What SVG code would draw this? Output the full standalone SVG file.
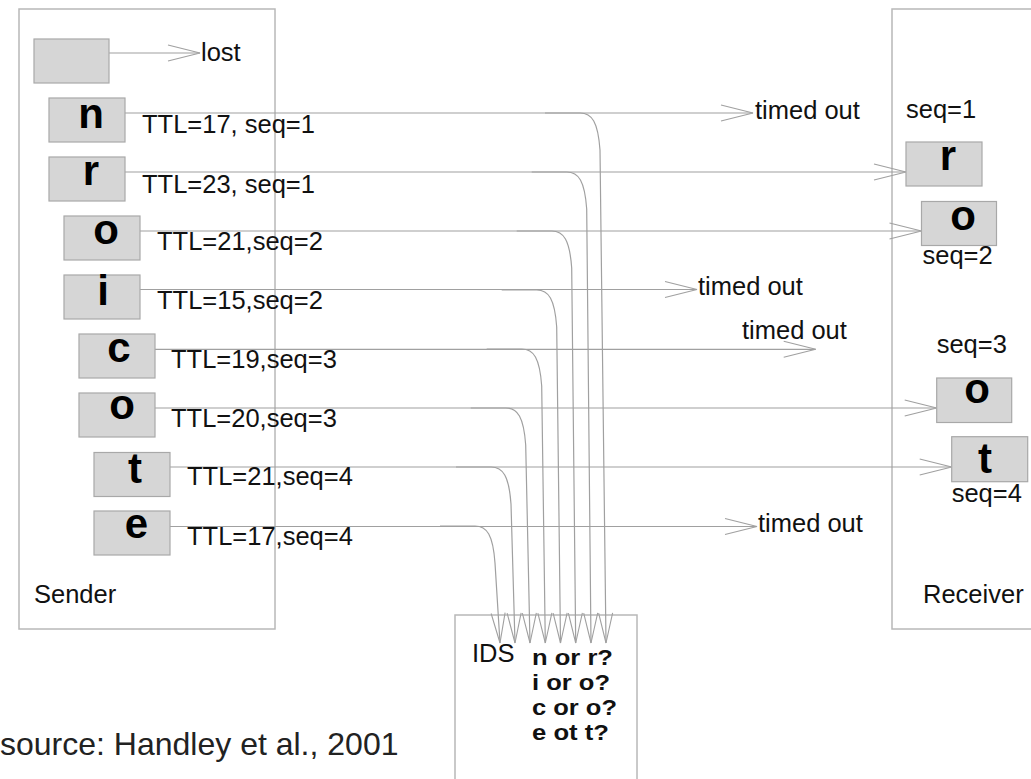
<svg xmlns="http://www.w3.org/2000/svg" width="1031" height="779" viewBox="0 0 1031 779">
<style>
  .cont{fill:#fff;stroke:#b8b8b8;stroke-width:1.5}
  .pkt{fill:#d6d6d6;stroke:#a8a8a8;stroke-width:1.2}
  .let{font-family:"Liberation Sans",Arial,sans-serif;font-weight:bold;font-size:42px;fill:#000;text-anchor:middle}
  .lbl{font-family:"Liberation Sans",Arial,sans-serif;font-size:25.5px;fill:#111}
  .bl{font-family:"Liberation Sans",Arial,sans-serif;font-size:21.5px;font-weight:bold;fill:#111}
  .ln{fill:none;stroke:#a0a0a0;stroke-width:1.2}
</style>
<defs>
  <marker id="ah" markerUnits="userSpaceOnUse" markerWidth="40" markerHeight="20" viewBox="-34 -10 36 20" refX="0" refY="0" orient="auto">
    <path d="M-32,-8 L0,0 L-32,8" fill="none" stroke="#a0a0a0" stroke-width="1.1"/>
  </marker>
  <marker id="ahv" markerUnits="userSpaceOnUse" markerWidth="40" markerHeight="20" viewBox="-34 -10 36 20" refX="0" refY="0" orient="auto">
    <path d="M-30,-7 L0,0 L-30,7" fill="none" stroke="#a0a0a0" stroke-width="1.1"/>
  </marker>
</defs>
<rect width="1031" height="779" fill="#fff"/>

<g id="sender">
  <rect class="cont" x="19" y="9" width="256" height="620"/>
  <text class="lbl" x="34" y="603">Sender</text>
</g>
<g id="receiver">
  <rect class="cont" x="892" y="9" width="160" height="620"/>
  <text class="lbl" x="923" y="603">Receiver</text>
</g>
<g id="ids">
  <rect class="cont" x="455" y="615" width="182" height="200"/>
  <text class="lbl" x="472" y="662">IDS</text>
  <text class="bl" x="532" y="665" textLength="81" lengthAdjust="spacingAndGlyphs">n or r?</text>
  <text class="bl" x="532" y="690" textLength="78" lengthAdjust="spacingAndGlyphs">i or o?</text>
  <text class="bl" x="532" y="715" textLength="85" lengthAdjust="spacingAndGlyphs">c or o?</text>
  <text class="bl" x="532" y="740" textLength="77" lengthAdjust="spacingAndGlyphs">e ot t?</text>
</g>

<g id="connectors">
  <path class="ln" d="M109,53 H200" marker-end="url(#ah)"/>
  <path class="ln" d="M125,113 H753" marker-end="url(#ah)"/>
  <path class="ln" d="M125,172 H906" marker-end="url(#ah)"/>
  <path class="ln" d="M140,231 H921.5" marker-end="url(#ah)"/>
  <path class="ln" d="M140,289.5 H697" marker-end="url(#ah)"/>
  <path class="ln" d="M155,349.3 H815.7" marker-end="url(#ah)"/>
  <path class="ln" d="M155,408 H936.7" marker-end="url(#ah)"/>
  <path class="ln" d="M170,467 H951.7" marker-end="url(#ah)"/>
  <path class="ln" d="M170,526.5 H757" marker-end="url(#ah)"/>

  <path class="ln" d="M545,113 H580 C592,113 598,122 600,150 L606,643" marker-end="url(#ahv)"/>
  <path class="ln" d="M531.7,172 H566.7 C578.7,172 584.7,181 586.7,209 L591,643" marker-end="url(#ahv)"/>
  <path class="ln" d="M516.7,231 H551.7 C563.7,231 569.7,240 571.7,268 L575.7,643" marker-end="url(#ahv)"/>
  <path class="ln" d="M501.7,290 H536.7 C548.7,290 554.7,299 556.7,327 L560.5,643" marker-end="url(#ahv)"/>
  <path class="ln" d="M486.7,349 H521.7 C533.7,349 539.7,358 541.7,386 L545.3,643" marker-end="url(#ahv)"/>
  <path class="ln" d="M470.7,408 H505.7 C517.7,408 523.7,417 525.7,445 L530,643" marker-end="url(#ahv)"/>
  <path class="ln" d="M456,467 H491 C503,467 509,476 511,504 L515,643" marker-end="url(#ahv)"/>
  <path class="ln" d="M440,526 H475 C487,526 493,535 495,563 L500,643" marker-end="url(#ahv)"/>
</g>

<g id="lost">
  <rect class="pkt" x="34" y="39" width="75" height="44"/>
  <text class="lbl" x="201" y="61">lost</text>
</g>
<g id="pkt-n">
  <rect class="pkt" x="49" y="98" width="76" height="44"/>
  <text class="let" x="91" y="128">n</text>
  <text class="lbl" x="142" y="133">TTL=17, seq=1</text>
</g>
<g id="pkt-r">
  <rect class="pkt" x="49" y="157" width="76" height="44"/>
  <text class="let" x="91" y="185">r</text>
  <text class="lbl" x="142" y="192.5">TTL=23, seq=1</text>
</g>
<g id="pkt-o1">
  <rect class="pkt" x="64" y="216" width="76" height="44"/>
  <text class="let" x="106" y="244">o</text>
  <text class="lbl" x="157" y="250">TTL=21,seq=2</text>
</g>
<g id="pkt-i">
  <rect class="pkt" x="64" y="275" width="76" height="44"/>
  <text class="let" x="103" y="305">i</text>
  <text class="lbl" x="157" y="309">TTL=15,seq=2</text>
</g>
<g id="pkt-c">
  <rect class="pkt" x="79" y="334" width="76" height="44"/>
  <text class="let" x="119" y="362">c</text>
  <text class="lbl" x="171" y="368">TTL=19,seq=3</text>
</g>
<g id="pkt-o2">
  <rect class="pkt" x="79" y="393" width="76" height="44"/>
  <text class="let" x="122" y="419">o</text>
  <text class="lbl" x="171" y="427">TTL=20,seq=3</text>
</g>
<g id="pkt-t">
  <rect class="pkt" x="94" y="452.5" width="76" height="44"/>
  <text class="let" x="135" y="483">t</text>
  <text class="lbl" x="187" y="485">TTL=21,seq=4</text>
</g>
<g id="pkt-e">
  <rect class="pkt" x="94" y="511" width="76" height="44"/>
  <text class="let" x="136.5" y="538">e</text>
  <text class="lbl" x="187" y="545">TTL=17,seq=4</text>
</g>

<g id="timeouts">
  <text class="lbl" x="755" y="119">timed out</text>
  <text class="lbl" x="698" y="295">timed out</text>
  <text class="lbl" x="742" y="339">timed out</text>
  <text class="lbl" x="758" y="532">timed out</text>
</g>

<g id="recv-r">
  <text class="lbl" x="906" y="118">seq=1</text>
  <rect class="pkt" x="906" y="142" width="76" height="44"/>
  <text class="let" x="948" y="169.5">r</text>
</g>
<g id="recv-o1">
  <rect class="pkt" x="921.5" y="201.5" width="75" height="44"/>
  <text class="let" x="963" y="230">o</text>
  <text class="lbl" x="922.5" y="264">seq=2</text>
</g>
<g id="recv-o2">
  <text class="lbl" x="936.7" y="353">seq=3</text>
  <rect class="pkt" x="936.7" y="378" width="75" height="44.5"/>
  <text class="let" x="977" y="403">o</text>
</g>
<g id="recv-t">
  <rect class="pkt" x="951.7" y="436.7" width="76" height="45"/>
  <text class="let" x="985" y="473">t</text>
  <text class="lbl" x="951.7" y="501.7">seq=4</text>
</g>

<text x="0" y="755" font-family="'Liberation Sans',Arial,sans-serif" font-size="32" fill="#222">source: Handley et al., 2001</text>
</svg>
